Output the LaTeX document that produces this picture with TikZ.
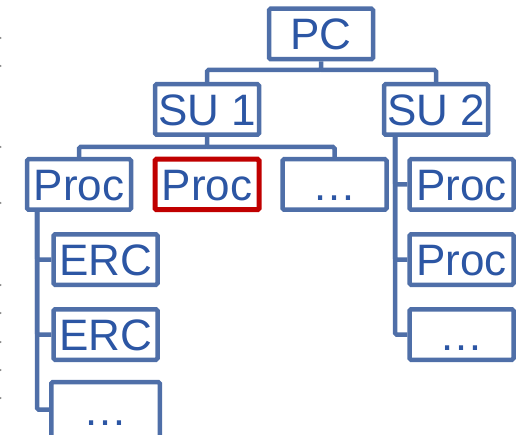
\documentclass[tikz,border=0pt]{standalone}
\usepackage{fontspec}
\setmainfont{Liberation Sans}
\definecolor{lineblue}{RGB}{79,111,168}
\definecolor{textblue}{RGB}{44,86,164}
\definecolor{boxred}{RGB}{192,0,0}
\definecolor{dotgrey}{RGB}{140,140,140}
\begin{document}
\begin{tikzpicture}[x=1pt,y=-1pt,
  box/.style={draw=lineblue, line width=4.5pt, rounded corners=1.5pt, fill=white,
    minimum width=104pt, minimum height=50.5pt, inner sep=0pt,
    text=textblue, font=\fontsize{44}{44}\selectfont, text height=31.5pt, text depth=0pt},
  redbox/.style={box, draw=boxred, line width=5pt},
  link/.style={draw=lineblue, line width=4.5pt, rounded corners=1.5pt},
  edgedot/.style={fill=dotgrey, draw=none}]
\useasboundingbox (0,0) rectangle (518,435);
\clip (0,0) rectangle (518,435);
% edge dots
\foreach \yy in {38,66,147,203,285,313,342,370,398}
  \fill[edgedot] (0.6,\yy) circle (1.1pt);
% junction points
\coordinate (pcj) at (321,70);
\coordinate (suj) at (207,147);
\coordinate (s2x) at (395,137);
\coordinate (p1x) at (37,212);
% nodes
\node[box] (pc) at (321,34) {PC};
\node[box] (su1) at (207,109.5) {SU 1};
\node[box] (su2) at (436,109.5) {SU 2};
\node[box] (p1) at (79,184.5) {Proc};
\node[redbox] (p2) at (207,184.5) {Proc};
\node[box] (d1) at (334.5,184.5) {\dots};
\node[box] (q1) at (461.5,184.5) {Proc};
\node[box] (q2) at (461.5,259.5) {Proc};
\node[box] (q3) at (461.5,334.5) {\dots};
\node[box] (e1) at (105.5,259.5) {ERC};
\node[box] (e2) at (105.5,334.5) {ERC};
\node[box, draw=none] (e3) at (105.5,409.5) {\dots};
\draw[draw=lineblue, line width=4.5pt, rounded corners=1.5pt]
  (e3.north west) rectangle ([yshift=-10pt]e3.south east);
% connectors
\path[link] (pc.south) -- (pcj) -| (su1.north);
\path[link] (pcj) -| (su2.north);
\path[link] (su1.south) -- (suj) -| (p1.north);
\path[link] (suj) -| (d1.north);
\path[link] (s2x) |- (q1.west);
\path[link] (s2x) |- (q2.west);
\path[link] (s2x) |- (q3.west);
\path[link] (p1x) |- (e1.west);
\path[link] (p1x) |- (e2.west);
\path[link] (p1x) |- (e3.west);
\end{tikzpicture}
\end{document}
